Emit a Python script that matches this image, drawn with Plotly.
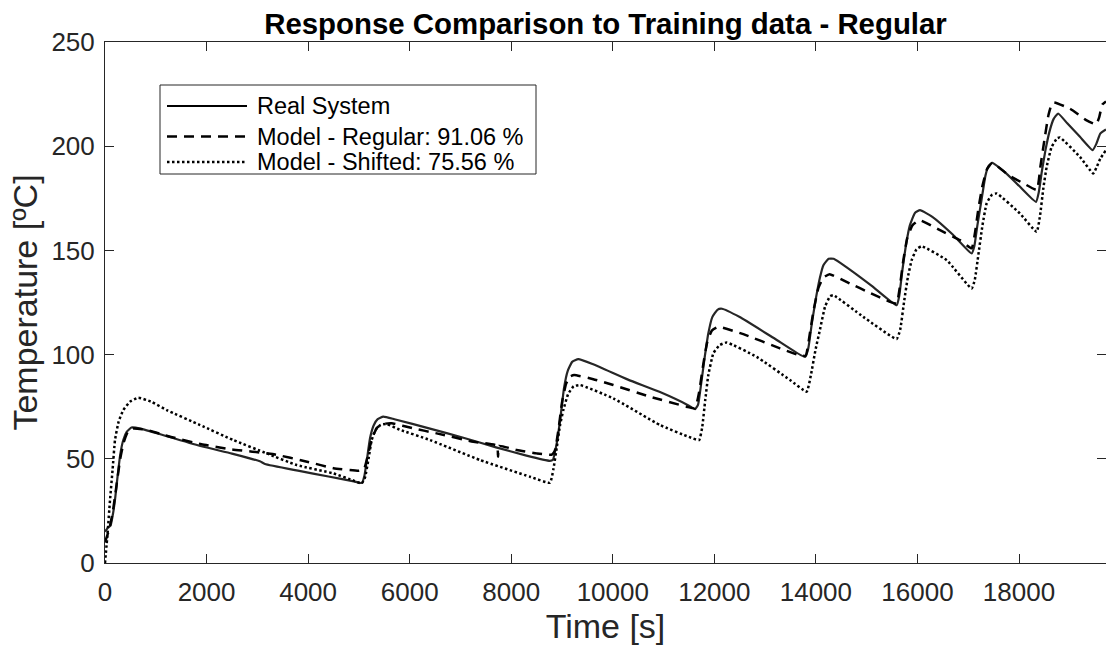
import plotly.graph_objects as go

# Measured temperature of the real system [s], [degC]
real_t = [0, 60, 110, 160, 200, 250, 300, 360, 430, 520, 700, 1200, 1900, 2500, 3050, 3150,
          3800, 4400, 4900, 5060, 5110, 5160, 5220, 5290, 5370, 5480, 5700, 6400, 7057, 7700,
          8300, 8760, 8820, 8900, 8970, 9040, 9110, 9200, 9320, 9600, 10300, 10930, 11500,
          11620, 11680, 11740, 11800, 11880, 11960, 12060, 12150, 12500, 13200, 13785, 13850,
          13920, 14000, 14080, 14150, 14250, 14350, 14600, 15100, 15590, 15640, 15700, 15770,
          15850, 15950, 16050, 16300, 16700, 17067, 17120, 17180, 17260, 17340, 17400, 17470,
          17700, 18000, 18334, 18390, 18450, 18520, 18600, 18680, 18770, 18950, 19200, 19450,
          19520, 19600, 19713]
real_y = [15, 17, 18, 24, 31, 42, 52, 59, 63, 65, 64.5, 61, 56, 52.5, 48.8, 47.5,
          44.3, 41.5, 39.2, 38.4, 42, 50, 60, 66, 69, 70.2, 69, 64.5, 60.1, 55.5,
          51.5, 49, 49.5, 58, 70, 84, 92, 96.5, 97.8, 95.5, 88, 82, 75.5,
          73.8, 76, 86, 97, 110, 118, 121.5, 122, 118, 107.5, 98.9, 103,
          115, 127, 137, 143, 146, 146, 142, 133, 123.7, 128, 140, 152,
          162, 168, 169.3, 166, 157.5, 148.5, 152, 162, 174, 186, 190.5, 192,
          188, 181, 173.3, 178, 188, 198, 207, 213, 215.7, 211, 204.5, 198.1,
          201, 206, 208]

# Model identified on the regular data set
regular_t = [0, 80, 150, 220, 300, 370, 450, 550, 800, 1300, 1900, 2500, 3300, 4000, 4500,
             5000, 5100, 5180, 5260, 5360, 5500, 5645, 6072, 6532, 7253, 7720, 7740, 7760,
             8108, 8501, 8800, 8860, 8930, 9000, 9080, 9160, 9240, 9616, 10010, 10733, 11455,
             11620, 11700, 11780, 11860, 11950, 12080, 12571, 13293, 13700, 13800, 13880,
             13960, 14050, 14150, 14270, 14671, 15065, 15459, 15590, 15650, 15720, 15800,
             15900, 16040, 16444, 16838, 17067, 17130, 17200, 17280, 17370, 17470, 17800,
             18100, 18350, 18420, 18500, 18580, 18640, 18690, 19004, 19332, 19520, 19580,
             19640, 19713]
regular_y = [10, 16, 24, 36, 50, 58, 63, 64.5, 64, 60.5, 57, 54.5, 52.3, 48.5, 45.5,
             44.3, 45, 52, 60, 65, 66.8, 67, 64.6, 62.2, 58.2, 56.3, 51, 56.2,
             54.2, 52.6, 52, 54, 64, 77, 86, 89.5, 90.2, 88.2, 85.4, 79.8, 75,
             74.2, 82, 95, 106, 111.5, 113.3, 109.8, 103, 99.5, 99.5, 110,
             122, 132, 137, 138.6, 134.1, 129.6, 125.3, 124.5, 132, 145, 156,
             162, 164.5, 159.7, 154.9, 151, 158, 170, 181, 189, 192, 186,
             182, 179, 190, 203, 215, 220, 221, 218, 212.4, 210.5, 214,
             220, 221.5]

# Model identified on the shifted data set
shifted_t = [0, 50, 98, 150, 197, 270, 361, 492, 656, 900, 1214, 1871, 2527, 3184, 3775,
             4496, 4900, 5055, 5120, 5190, 5252, 5330, 5430, 5547, 5800, 6400, 7385, 8370,
             8763, 8830, 8900, 8960, 9026, 9120, 9230, 9354, 10010, 10930, 11500, 11700,
             11760, 11820, 11880, 11980, 12100, 12243, 12834, 13490, 13818, 13900, 13990,
             14080, 14180, 14280, 14343, 14933, 15590, 15660, 15740, 15810, 15886, 15980,
             16083, 16576, 17067, 17130, 17200, 17280, 17362, 17460, 17560, 18019, 18347,
             18410, 18480, 18544, 18640, 18750, 18806, 19200, 19462, 19530, 19600, 19713]
shifted_y = [0, 14, 30, 45, 59, 68, 73.4, 77.4, 79.3, 77.5, 73.4, 66.2, 59, 52.6, 47,
             43, 39.5, 38.2, 41, 50, 59, 64, 66.3, 66.7, 64, 59, 49.4, 41.4,
             38.5, 45, 56, 66, 73.4, 81, 84.8, 85.4, 79, 66.2, 60.5, 59,
             65, 78, 90, 100.6, 104.5, 105.8, 98.9, 87.8, 82.2, 90, 102,
             112, 123, 128, 128.5, 118.1, 107.5, 112, 126, 137, 145.3, 150.5,
             152, 145.3, 131.7, 136, 148, 162, 172.5, 176.5, 177.3, 167.7, 158.9,
             166, 180, 190, 199.5, 203.8, 204.2, 194.9, 186.9, 190, 194, 198.1]

series_names = ["Real System", "Model - Regular: 91.06 %", "Model - Shifted: 75.56 %"]
x_ticks = [0, 2000, 4000, 6000, 8000, 10000, 12000, 14000, 16000, 18000]
y_ticks = [0, 50, 100, 150, 200, 250]

FONT = "Liberation Sans, Arial, Helvetica, sans-serif"
AXIS_COLOR = "#262626"

styles = [
    dict(color="#262626", width=2.2, dash="solid"),
    dict(color="#000000", width=2.5, dash="10px,7px"),
    dict(color="#000000", width=2.5, dash="2.5px,2.5px"),
]

fig = go.Figure()
for name, tt, yy, st in zip(series_names, [real_t, regular_t, shifted_t],
                            [real_y, regular_y, shifted_y], styles):
    fig.add_trace(go.Scatter(x=tt, y=yy, mode="lines", name=name, line=st,
                             line_shape="spline", line_smoothing=0.4, showlegend=False))

# Boxed legend in the upper-left corner of the axes
L, R, T, B = 105, 1106, 42, 563
W, H = R - L, B - T


def px(x):
    return (x - L) / W


def py(y):
    return (B - y) / H


fig.add_shape(type="rect", xref="paper", yref="paper",
              x0=px(160), x1=px(536), y0=py(85), y1=py(174),
              line=dict(color=AXIS_COLOR, width=1), fillcolor="white", layer="above")
rows = [106, 136.5, 162]
for name, st, ry in zip(series_names, styles, rows):
    fig.add_shape(type="line", xref="paper", yref="paper",
                  x0=px(167), x1=px(247), y0=py(ry), y1=py(ry),
                  line=dict(color="#000000", width=st["width"], dash=st["dash"]),
                  layer="above")
    fig.add_annotation(text=name, xref="paper", yref="paper", x=px(255), y=py(ry),
                       xanchor="left", yanchor="middle", showarrow=False,
                       font=dict(family=FONT, size=23.5, color="#000000"))

axis_common = dict(
    showgrid=False, zeroline=False, showline=True, linecolor=AXIS_COLOR, linewidth=1,
    mirror="ticks", ticks="inside", ticklen=9, tickcolor=AXIS_COLOR, tickwidth=1,
    tickfont=dict(family=FONT, size=26, color=AXIS_COLOR),
)

fig.update_layout(
    width=1106, height=646,
    margin=dict(l=L, r=1106 - R, t=T, b=646 - B, autoexpand=False),
    paper_bgcolor="white", plot_bgcolor="white",
    title=dict(text="<b>Response Comparison to Training data - Regular</b>",
               x=0.5 * (L + R) / 1106, xanchor="center", y=1 - 24 / 646, yanchor="middle",
               font=dict(family=FONT, size=29.4, color="#000000")),
    xaxis=dict(range=[0, 19713], tickvals=x_ticks, ticktext=[str(v) for v in x_ticks],
               title=dict(text="Time [s]", standoff=7,
                          font=dict(family=FONT, size=34, color=AXIS_COLOR)),
               ticklabelstandoff=6, **axis_common),
    yaxis=dict(range=[0, 250], tickvals=y_ticks, ticktext=[str(v) for v in y_ticks],
               title=dict(text="Temperature [ºC]", standoff=3,
                          font=dict(family=FONT, size=34, color=AXIS_COLOR)),
               ticklabelstandoff=4, **axis_common),
)

fig.write_html("out.html")
